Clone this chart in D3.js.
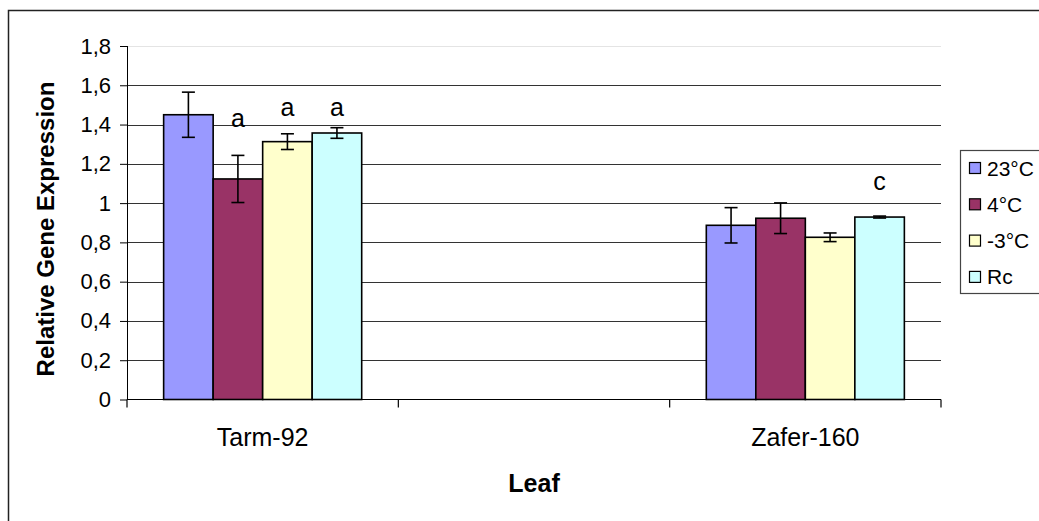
<!DOCTYPE html>
<html>
<head>
<meta charset="utf-8">
<script src="https://cdn.jsdelivr.net/npm/d3@7"></script>
<style>
  body { margin: 0; background: #fff; }
  svg { display: block; font-family: "Liberation Sans", Arial, sans-serif; }
</style>
</head>
<body>
<svg id="chart" width="1039" height="521"></svg>
<script>
// Category slots along the x axis (the middle slot is left empty)
const xSlots = ["Tarm-92", "", "Zafer-160"];
const categories = ["Tarm-92", "Zafer-160"];
const seriesNames = ["23°C", "4°C", "-3°C", "Rc"];
const seriesColors = ["#9999FF", "#993366", "#FFFFCC", "#CCFFFF"];

// Mean relative expression per series, [Tarm-92, Zafer-160]
const values23 = [1.45, 0.887];
const values4 = [1.123, 0.923];
const valuesM3 = [1.313, 0.826];
const valuesRc = [1.357, 0.929];

// Error (± half-range) per series, [Tarm-92, Zafer-160]
const err23 = [0.115, 0.09];
const err4 = [0.12, 0.078];
const errM3 = [0.04, 0.022];
const errRc = [0.027, 0.005];

// Significance letters and the value level where they sit
const sigLetters = [
  { category: "Tarm-92", series: "4°C", text: "a", level: 1.39 },
  { category: "Tarm-92", series: "-3°C", text: "a", level: 1.445 },
  { category: "Tarm-92", series: "Rc", text: "a", level: 1.445 },
  { category: "Zafer-160", series: "Rc", text: "c", level: 1.067 }
];

const yTicks = [0, 0.2, 0.4, 0.6, 0.8, 1, 1.2, 1.4, 1.6, 1.8];

const seriesValues = [values23, values4, valuesM3, valuesRc];
const seriesErrors = [err23, err4, errM3, errRc];

const bars = [];
categories.forEach((c, ci) => {
  seriesNames.forEach((s, si) => {
    bars.push({ category: c, series: s, value: seriesValues[si][ci], err: seriesErrors[si][ci], color: seriesColors[si] });
  });
});

const svg = d3.select("#chart");
const plot = { left: 127, right: 941, top: 46, bottom: 399.5 };

const x = d3.scaleBand().domain(xSlots).range([plot.left, plot.right]).padding(0);
const xs = d3.scaleBand().domain(seriesNames).range([0, x.bandwidth()]).paddingInner(0).paddingOuter(0.74);
const y = d3.scaleLinear().domain([0, 1.8]).range([plot.bottom, plot.top]);
const color = d3.scaleOrdinal().domain(seriesNames).range(seriesColors);

// Outer chart frame
svg.append("rect")
  .attr("x", 8.5).attr("y", 10.5)
  .attr("width", 1040).attr("height", 520)
  .attr("fill", "none").attr("stroke", "#222").attr("stroke-width", 1.5);

// Horizontal gridlines
svg.append("g")
  .selectAll("line")
  .data(yTicks.filter(t => t > 0))
  .join("line")
  .attr("x1", plot.left).attr("x2", plot.right)
  .attr("y1", d => Math.round(y(d)) + 0.5).attr("y2", d => Math.round(y(d)) + 0.5)
  .attr("stroke", d => d === 1.8 ? "#e4e4e4" : "#333")
  .attr("stroke-width", 1);

// Y axis
const fmt = d => d === 0 ? "0" : String(+d.toFixed(1)).replace(".", ",");
const yAxis = svg.append("g")
  .attr("transform", `translate(${plot.left},0)`)
  .call(d3.axisLeft(y).tickValues(yTicks).tickFormat(fmt).tickSize(7).tickPadding(9));
yAxis.select(".domain").attr("stroke", "#000").attr("d", `M0.5,${plot.top}V${plot.bottom}`);
yAxis.selectAll(".tick line").attr("stroke", "#000");
yAxis.selectAll(".tick text")
  .attr("font-size", 22).attr("fill", "#000")
  .attr("font-family", "'Liberation Sans', Arial, sans-serif");

// X axis with slot-boundary ticks
const xAxisG = svg.append("g").attr("transform", `translate(0,${plot.bottom})`);
xAxisG.append("line")
  .attr("x1", plot.left).attr("x2", plot.right)
  .attr("y1", 0).attr("y2", 0)
  .attr("stroke", "#000").attr("stroke-width", 1.2);
const boundaries = xSlots.map(s => x(s)).concat([x(xSlots[xSlots.length - 1]) + x.bandwidth()]);
xAxisG.selectAll("line.bound")
  .data(boundaries)
  .join("line")
  .attr("class", "bound")
  .attr("x1", d => d).attr("x2", d => d)
  .attr("y1", 0).attr("y2", 8)
  .attr("stroke", "#000").attr("stroke-width", 1.2);
xAxisG.selectAll("text.cat")
  .data(xSlots.filter(s => s !== ""))
  .join("text")
  .attr("class", "cat")
  .attr("x", d => x(d) + x.bandwidth() / 2)
  .attr("y", 46)
  .attr("text-anchor", "middle")
  .attr("font-size", 25)
  .text(d => d);

// Bars
svg.append("g")
  .selectAll("rect")
  .data(bars)
  .join("rect")
  .attr("x", d => x(d.category) + xs(d.series))
  .attr("y", d => y(d.value))
  .attr("width", xs.bandwidth())
  .attr("height", d => y(0) - y(d.value))
  .attr("fill", d => color(d.series))
  .attr("stroke", "#000")
  .attr("stroke-width", 1.6);

// Error bars
const eb = svg.append("g").attr("stroke", "#000").attr("stroke-width", 1.6);
const cx = d => x(d.category) + xs(d.series) + xs.bandwidth() / 2;
eb.selectAll("line.v").data(bars).join("line").attr("class", "v")
  .attr("x1", cx).attr("x2", cx)
  .attr("y1", d => y(d.value + d.err)).attr("y2", d => y(d.value - d.err));
eb.selectAll("line.t").data(bars).join("line").attr("class", "t")
  .attr("x1", d => cx(d) - 6.5).attr("x2", d => cx(d) + 6.5)
  .attr("y1", d => y(d.value + d.err)).attr("y2", d => y(d.value + d.err));
eb.selectAll("line.b").data(bars).join("line").attr("class", "b")
  .attr("x1", d => cx(d) - 6.5).attr("x2", d => cx(d) + 6.5)
  .attr("y1", d => y(d.value - d.err)).attr("y2", d => y(d.value - d.err));

// Significance letters
svg.append("g")
  .selectAll("text")
  .data(sigLetters)
  .join("text")
  .attr("x", d => x(d.category) + xs(d.series) + xs.bandwidth() / 2)
  .attr("y", d => y(d.level))
  .attr("text-anchor", "middle")
  .attr("font-size", 25)
  .text(d => d.text);

// Axis titles
svg.append("text")
  .attr("transform", `translate(54,229) rotate(-90)`)
  .attr("text-anchor", "middle")
  .attr("font-size", 24)
  .attr("font-weight", "bold")
  .text("Relative Gene Expression");

svg.append("text")
  .attr("x", 534).attr("y", 492)
  .attr("text-anchor", "middle")
  .attr("font-size", 25)
  .attr("font-weight", "bold")
  .text("Leaf");

// Legend
const legend = svg.append("g").attr("transform", "translate(960,150)");
legend.append("rect")
  .attr("x", 0.5).attr("y", 0.5)
  .attr("width", 90).attr("height", 143)
  .attr("fill", "#fff").attr("stroke", "#444").attr("stroke-width", 1.2);
const rows = legend.selectAll("g.row")
  .data(seriesNames)
  .join("g")
  .attr("class", "row")
  .attr("transform", (d, i) => `translate(0,${18 + i * 36.3})`);
rows.append("rect")
  .attr("x", 9.5).attr("y", -5.5)
  .attr("width", 11).attr("height", 11)
  .attr("fill", d => color(d)).attr("stroke", "#000").attr("stroke-width", 1.2);
rows.append("text")
  .attr("x", 27).attr("y", 7.5)
  .attr("font-size", 21)
  .text(d => d);
</script>
</body>
</html>
